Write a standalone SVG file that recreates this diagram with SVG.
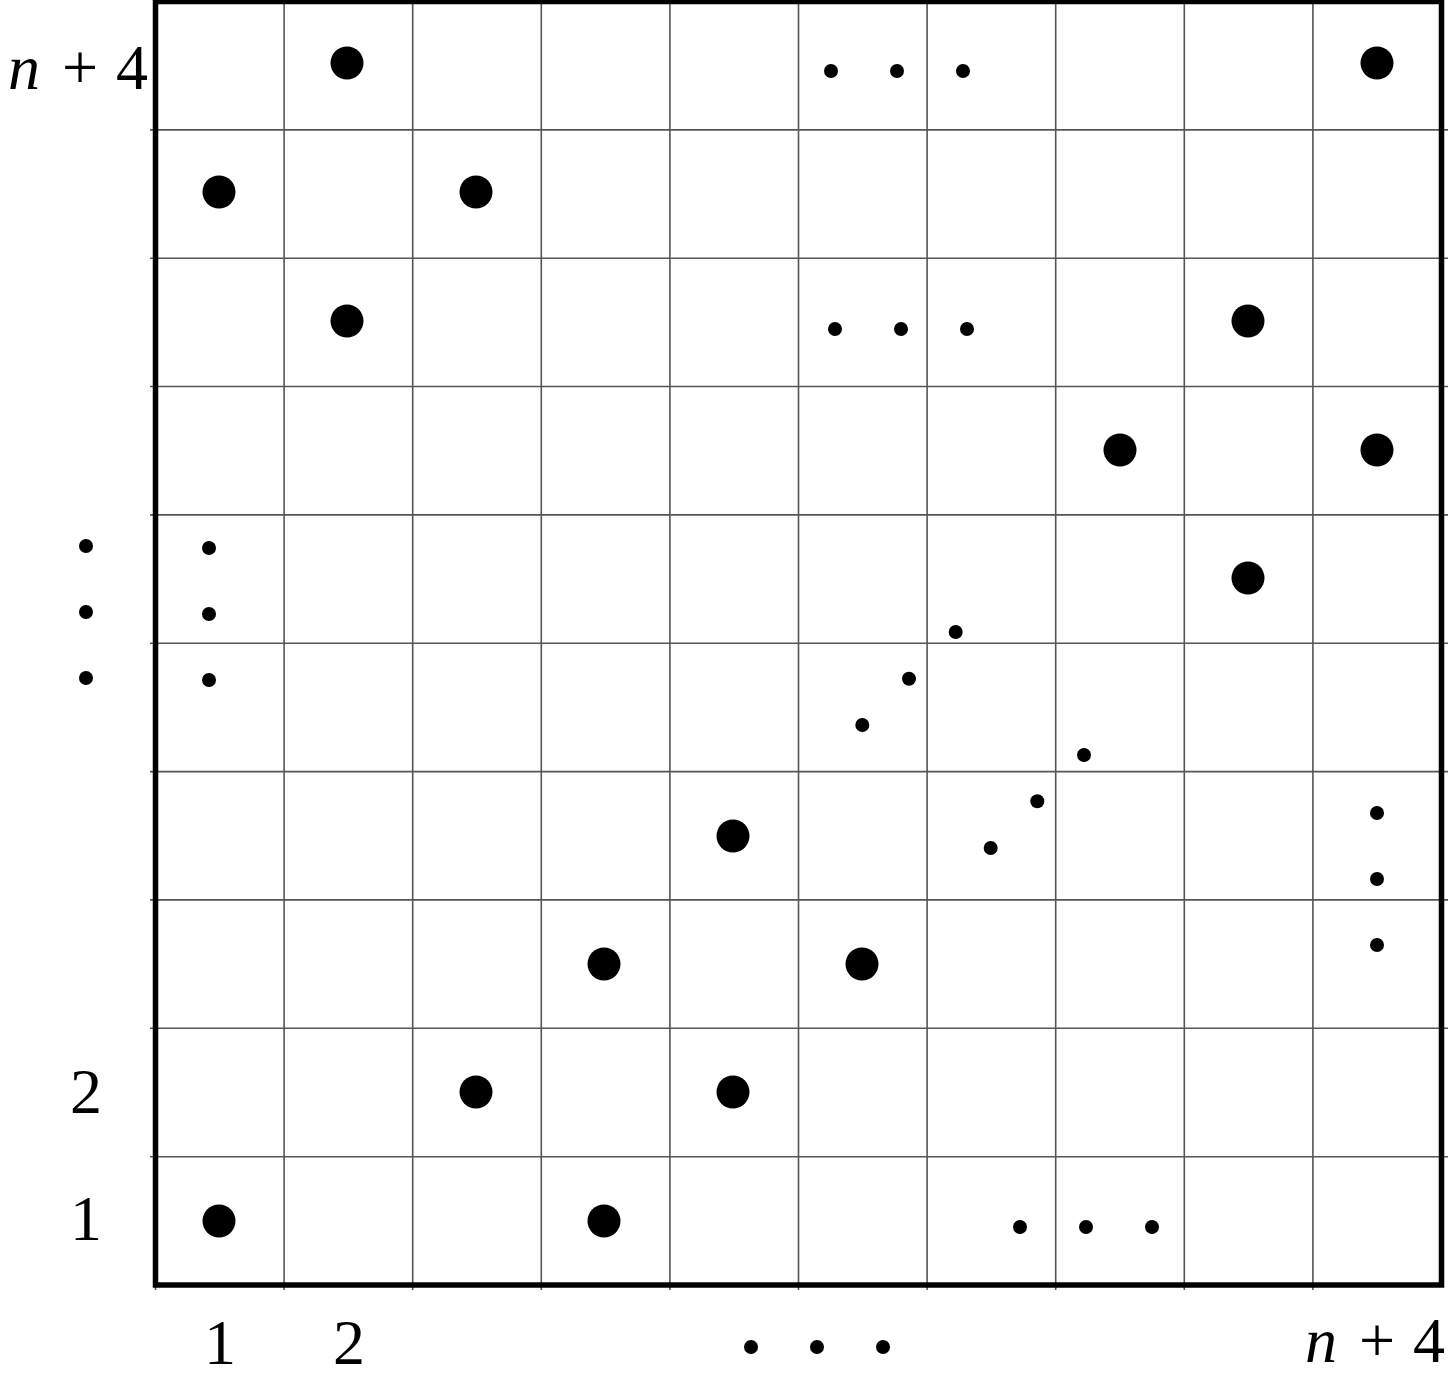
<svg xmlns="http://www.w3.org/2000/svg" width="1453" height="1376" viewBox="0 0 1453 1376">
<style>
.g{stroke:#555;stroke-width:1.6;fill:none}
.b{stroke:#000;stroke-width:5.5;fill:none}
.L{fill:#000}
.s{fill:#000}
.t{font-family:"Liberation Serif","DejaVu Serif",serif;font-size:64px;fill:#000}
.i{font-style:italic}
</style>
<rect width="1453" height="1376" fill="#fff"/>
<g id="grid">
<path class="g" d="M284.1 0V1290M412.7 0V1290M541.3 0V1290M669.9 0V1290M798.5 0V1290M927.1 0V1290M1055.7 0V1290M1184.3 0V1290M1312.9 0V1290"/>
<path class="g" d="M150 129.9H1448M150 258.2H1448M150 386.5H1448M150 514.9H1448M150 643.3H1448M150 771.6H1448M150 899.9H1448M150 1028.3H1448M150 1156.7H1448"/>
<path class="g" d="M155.5 1285V1290"/>
<rect class="b" x="155.5" y="1.5" width="1286" height="1283.5"/>
</g>
<g id="large-dots">
<circle class="L" cx="347" cy="63" r="16.5"/>
<circle class="L" cx="1377" cy="63" r="16.5"/>
<circle class="L" cx="219" cy="192" r="16.5"/>
<circle class="L" cx="476" cy="192" r="16.5"/>
<circle class="L" cx="347" cy="321" r="16.5"/>
<circle class="L" cx="1248" cy="321" r="16.5"/>
<circle class="L" cx="1120" cy="450" r="16.5"/>
<circle class="L" cx="1377" cy="450" r="16.5"/>
<circle class="L" cx="1248" cy="578" r="16.5"/>
<circle class="L" cx="733" cy="836" r="16.5"/>
<circle class="L" cx="604" cy="964" r="16.5"/>
<circle class="L" cx="862" cy="964" r="16.5"/>
<circle class="L" cx="476" cy="1092" r="16.5"/>
<circle class="L" cx="733" cy="1092" r="16.5"/>
<circle class="L" cx="219" cy="1221" r="16.5"/>
<circle class="L" cx="604" cy="1221" r="16.5"/>
</g>
<g id="small-dots">
<circle class="s" cx="831" cy="71" r="7"/><circle class="s" cx="897" cy="71" r="7"/><circle class="s" cx="963" cy="71" r="7"/>
<circle class="s" cx="835" cy="329" r="7"/><circle class="s" cx="901" cy="329" r="7"/><circle class="s" cx="967" cy="329" r="7"/>
<circle class="s" cx="86" cy="546" r="7"/><circle class="s" cx="86" cy="612" r="7"/><circle class="s" cx="86" cy="678" r="7"/>
<circle class="s" cx="209" cy="548" r="7"/><circle class="s" cx="209" cy="614" r="7"/><circle class="s" cx="209" cy="680" r="7"/>
<circle class="s" cx="955.7" cy="632" r="7"/><circle class="s" cx="909" cy="678.7" r="7"/><circle class="s" cx="862.3" cy="725" r="7"/>
<circle class="s" cx="1084" cy="755" r="7"/><circle class="s" cx="1037.3" cy="801.3" r="7"/><circle class="s" cx="990.7" cy="848" r="7"/>
<circle class="s" cx="1377" cy="813" r="7"/><circle class="s" cx="1377" cy="879" r="7"/><circle class="s" cx="1377" cy="945" r="7"/>
<circle class="s" cx="1020" cy="1227" r="7"/><circle class="s" cx="1086" cy="1227" r="7"/><circle class="s" cx="1152" cy="1227" r="7"/>
<circle class="s" cx="751" cy="1347" r="7"/><circle class="s" cx="817" cy="1347" r="7"/><circle class="s" cx="883" cy="1347" r="7"/>
</g>
<g id="labels">
<text class="t" y="89"><tspan class="i" x="8">n</tspan><tspan x="62">+</tspan><tspan x="116">4</tspan></text>
<text class="t" x="86" y="1113" text-anchor="middle">2</text>
<text class="t" x="86" y="1240" text-anchor="middle">1</text>
<text class="t" x="220" y="1364" text-anchor="middle">1</text>
<text class="t" x="349" y="1364" text-anchor="middle">2</text>
<text class="t" y="1362"><tspan class="i" x="1305">n</tspan><tspan x="1359">+</tspan><tspan x="1413">4</tspan></text>
</g>
</svg>
